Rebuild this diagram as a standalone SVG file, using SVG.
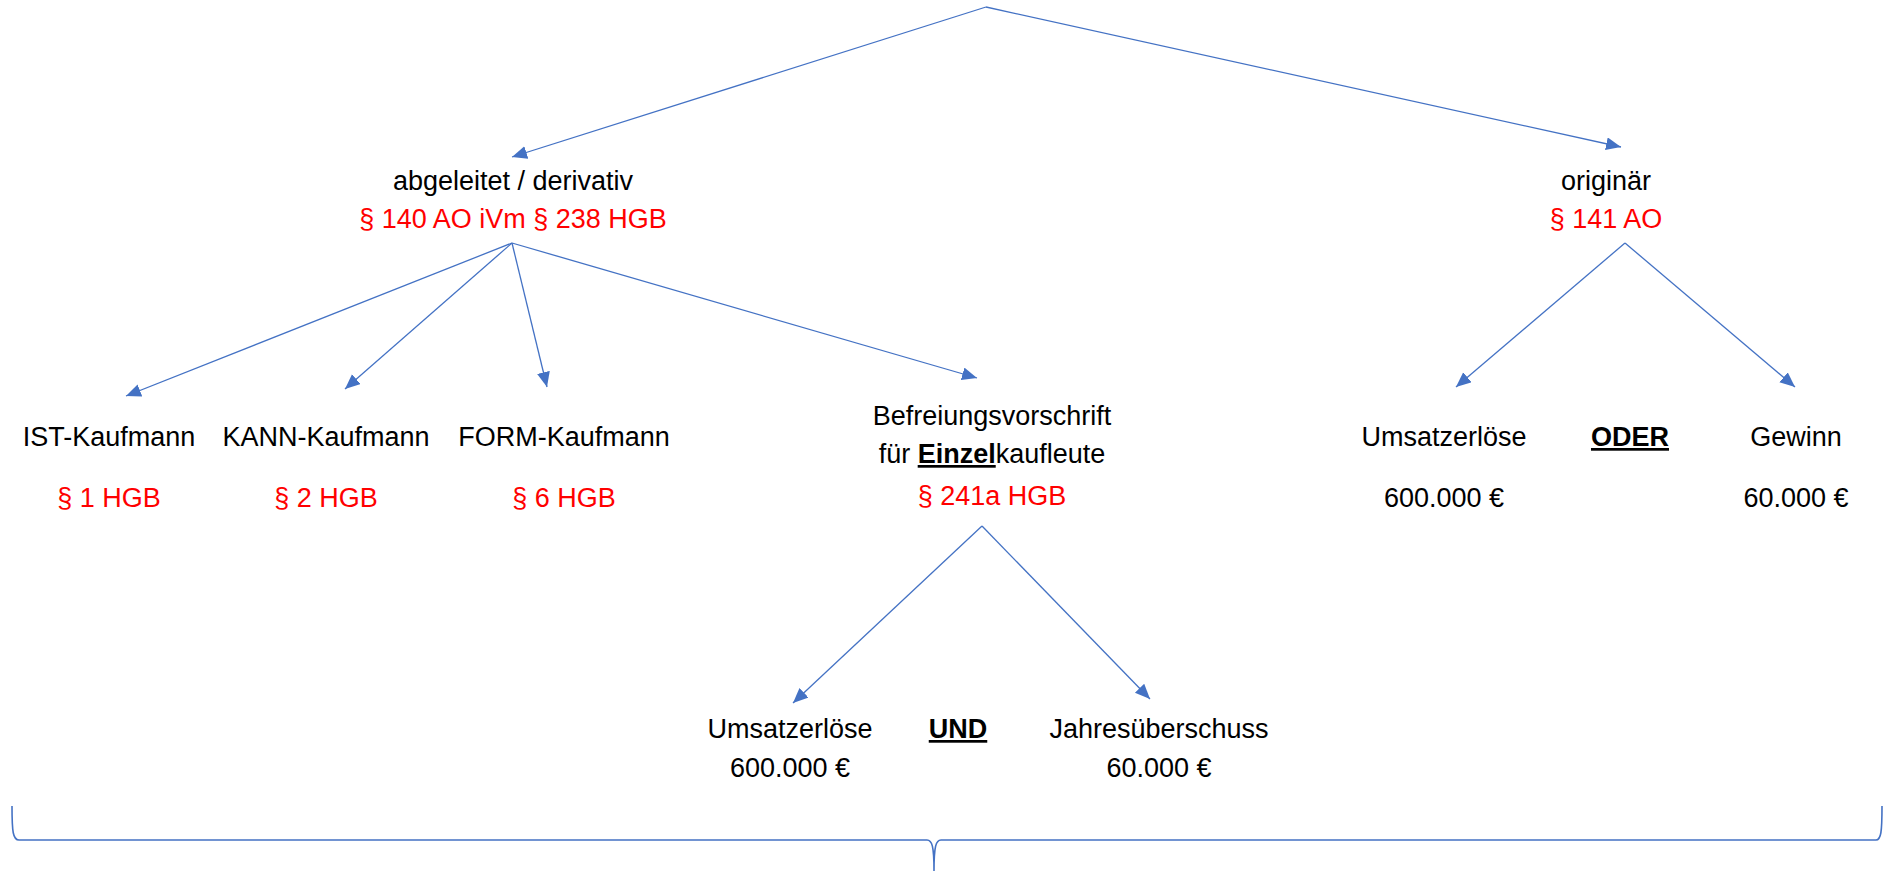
<svg xmlns="http://www.w3.org/2000/svg" width="1883" height="871" viewBox="0 0 1883 871">
  <style>
    .t { font-family: "Liberation Sans", Arial, sans-serif; font-size: 27px; fill: #000; text-anchor: middle; }
    .r { fill: #FF0000; }
    .b { font-weight: bold; text-decoration: underline; }
    .edge { stroke: #4472C4; stroke-width: 1.3; fill: none; marker-end: url(#arrow); }
    .brace { stroke: #4472C4; stroke-width: 1.6; fill: none; }
  </style>
  <defs>
    <marker id="arrow" markerUnits="userSpaceOnUse" markerWidth="16" markerHeight="14" refX="15" refY="6.5" orient="auto">
      <path d="M0,0 L15,6.5 L0,13 z" fill="#4472C4"/>
    </marker>
  </defs>
  <rect width="1883" height="871" fill="#fff"/>

  <!-- connectors -->
  <g id="connectors">
    <line class="edge" x1="986" y1="7" x2="512" y2="157"/>
    <line class="edge" x1="986" y1="7" x2="1621" y2="147"/>
    <line class="edge" x1="512" y1="243" x2="126" y2="396"/>
    <line class="edge" x1="512" y1="243" x2="345" y2="389"/>
    <line class="edge" x1="512" y1="243" x2="547" y2="387"/>
    <line class="edge" x1="512" y1="243" x2="977" y2="378"/>
    <line class="edge" x1="1625" y1="243" x2="1456" y2="387"/>
    <line class="edge" x1="1625" y1="243" x2="1795" y2="387"/>
    <line class="edge" x1="982" y1="526" x2="793" y2="703"/>
    <line class="edge" x1="982" y1="526" x2="1150" y2="699"/>
  </g>

  <!-- derived obligation -->
  <g id="n-derivativ">
    <text class="t" x="513" y="190">abgeleitet / derivativ</text>
    <text class="t r" x="513" y="228">§ 140 AO iVm § 238 HGB</text>
  </g>

  <!-- original obligation -->
  <g id="n-originaer">
    <text class="t" x="1606" y="190">originär</text>
    <text class="t r" x="1606" y="228">§ 141 AO</text>
  </g>

  <g id="n-ist">
    <text class="t" x="109" y="446">IST-Kaufmann</text>
    <text class="t r" x="109" y="507">§ 1 HGB</text>
  </g>

  <g id="n-kann">
    <text class="t" x="326" y="446">KANN-Kaufmann</text>
    <text class="t r" x="326" y="507">§ 2 HGB</text>
  </g>

  <g id="n-form">
    <text class="t" x="564" y="446">FORM-Kaufmann</text>
    <text class="t r" x="564" y="507">§ 6 HGB</text>
  </g>

  <g id="n-befreiung">
    <text class="t" x="992" y="425">Befreiungsvorschrift</text>
    <text class="t" x="992" y="463">für <tspan class="b">Einzel</tspan>kaufleute</text>
    <text class="t r" x="992" y="505">§ 241a HGB</text>
  </g>

  <g id="n-umsatz-oder">
    <text class="t" x="1444" y="446">Umsatzerlöse</text>
    <text class="t" x="1444" y="507">600.000 €</text>
  </g>

  <g id="n-oder">
    <text class="t b" x="1630" y="446">ODER</text>
  </g>

  <g id="n-gewinn">
    <text class="t" x="1796" y="446">Gewinn</text>
    <text class="t" x="1796" y="507">60.000 €</text>
  </g>

  <g id="n-umsatz-und">
    <text class="t" x="790" y="738">Umsatzerlöse</text>
    <text class="t" x="790" y="777">600.000 €</text>
  </g>

  <g id="n-und">
    <text class="t b" x="958" y="738">UND</text>
  </g>

  <g id="n-jahres">
    <text class="t" x="1159" y="738">Jahresüberschuss</text>
    <text class="t" x="1159" y="777">60.000 €</text>
  </g>

  <!-- curly brace spanning the whole tree -->
  <g id="brace">
    <path class="brace" d="M12,806 C12,832 13,840 19,840 L927,840 C932,840 934,846 934,871 M934,871 C934,846 936,840 941,840 L1876,840 C1881,840 1882,832 1882,806"/>
  </g>
</svg>
